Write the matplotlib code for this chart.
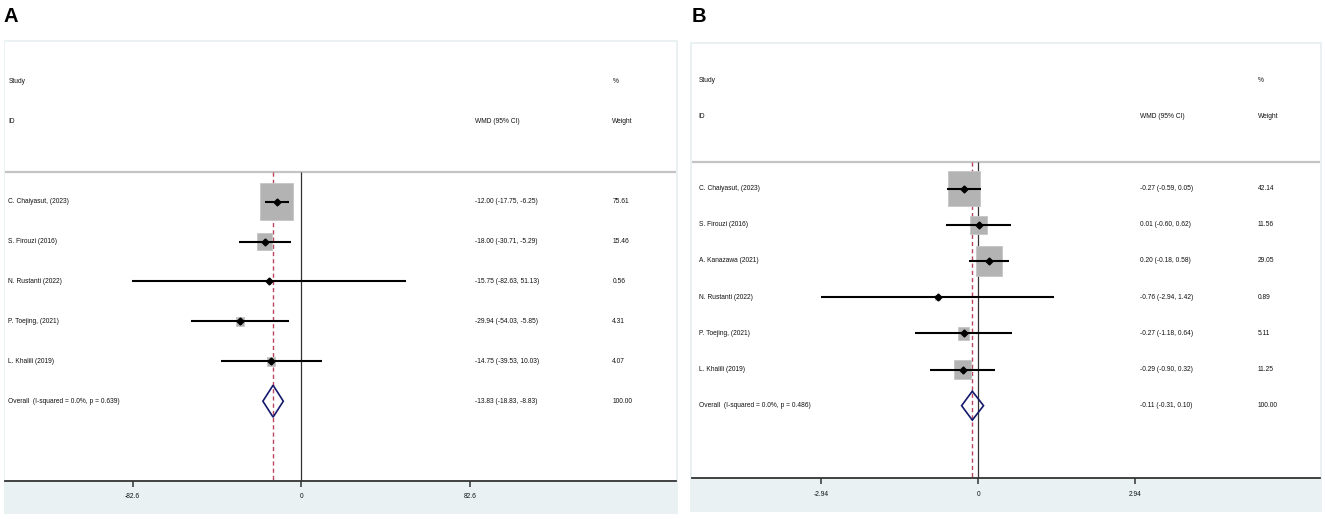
import numpy as np
import matplotlib
matplotlib.use("Agg")
import matplotlib.pyplot as plt
from matplotlib.patches import Rectangle, Polygon
from matplotlib.transforms import blended_transform_factory

plt.rcParams['font.family'] = ['Liberation Sans Narrow', 'Liberation Sans', 'DejaVu Sans']

# ---- panel A data ----
studies_a = ["C. Chaiyasut, (2023)", "S. Firouzi (2016)", "N. Rustanti (2022)",
             "P. Toejing, (2021)", "L. Khalili (2019)"]
wmd_a = [-12.00, -18.00, -15.75, -29.94, -14.75]
lo_a = [-17.75, -30.71, -82.63, -54.03, -39.53]
hi_a = [-6.25, -5.29, 51.13, -5.85, 10.03]
weight_a = [75.61, 15.46, 0.56, 4.31, 4.07]
overall_a = [-13.83, -18.83, -8.83]
overall_weight_a = 100.00
overall_label_a = "Overall  (I-squared = 0.0%, p = 0.639)"
ticks_a = [-82.6, 0, 82.6]

# ---- panel B data ----
studies_b = ["C. Chaiyasut, (2023)", "S. Firouzi (2016)", "A. Kanazawa (2021)",
             "N. Rustanti (2022)", "P. Toejing, (2021)", "L. Khalili (2019)"]
wmd_b = [-0.27, 0.01, 0.20, -0.76, -0.27, -0.29]
lo_b = [-0.59, -0.60, -0.18, -2.94, -1.18, -0.90]
hi_b = [0.05, 0.62, 0.58, 1.42, 0.64, 0.32]
weight_b = [42.14, 11.56, 29.05, 0.89, 5.11, 11.25]
overall_b = [-0.11, -0.31, 0.10]
overall_weight_b = 100.00
overall_label_b = "Overall  (I-squared = 0.0%, p = 0.486)"
ticks_b = [-2.94, 0, 2.94]

W, H = 1325, 519
FS = 4.8
TXT = '#111111'
REGION = '#e9f1f3'


def px_rect(l, t, r, b):
    """pixel box (top-left origin) -> figure fraction rect"""
    return [l / W, 1 - b / H, (r - l) / W, (b - t) / H]


def draw_forest(fig, region, plot, xlim, studies, est, lo, hi, wts, overall,
                overall_wt, overall_label, ticks, box_px, cols):
    bg = fig.add_axes(px_rect(*region))
    bg.set_facecolor(REGION)
    bg.set_xticks([])
    bg.set_yticks([])
    for s in bg.spines.values():
        s.set_visible(False)

    ax = fig.add_axes(px_rect(*plot))
    ax.set_facecolor('white')
    n = len(studies)
    ybot = n + 3
    ax.set_xlim(*xlim)
    ax.set_ylim(ybot, -3)
    for k in ['top', 'left', 'right']:
        ax.spines[k].set_visible(False)
    ax.spines['bottom'].set_color('#333333')
    ax.spines['bottom'].set_linewidth(1.3)
    ax.set_yticks([])
    ax.set_xticks(ticks)
    ax.set_xticklabels([f"{t:g}" for t in ticks])
    ax.tick_params(axis='x', direction='out', length=4.5, width=1.1,
                   color='#333333', labelsize=FS, labelcolor=TXT, pad=4.5)

    # pixel -> data conversion for box sizes
    w_px = plot[2] - plot[0]
    h_px = plot[3] - plot[1]
    dx = (xlim[1] - xlim[0]) / w_px
    dy = (ybot + 3) / h_px

    rows = np.arange(1, n + 1)
    ax.axhline(0.25, color='#c4c4c4', lw=1.6, zorder=1)
    ax.vlines(0, 0.25, ybot, color='#333333', lw=0.9, zorder=1)
    ax.vlines(overall[0], 0.25, ybot, color='#b8465c', lw=1.0,
              linestyles=(0, (3, 2.2)), zorder=1)

    wmax = max(wts)
    for r, m, w in zip(rows, est, wts):
        side = box_px * np.sqrt(w / wmax)
        bw = side * dx
        bh = side * 1.11 * dy
        ax.add_patch(Rectangle((m - bw / 2, r - bh / 2), bw, bh,
                               facecolor='#b3b3b3', edgecolor='#c6c6c6',
                               lw=0.6, zorder=2))
    ax.hlines(rows, lo, hi, color='black', lw=1.5, zorder=3)
    ax.plot(est, rows, 'D', color='black', ms=3.5, zorder=4)

    ro = n + 1
    ax.add_patch(Polygon([(overall[1], ro), (overall[0], ro - 0.4),
                          (overall[2], ro), (overall[0], ro + 0.4)],
                         closed=True, fill=False, edgecolor='#141a6b',
                         lw=1.2, zorder=4))

    tr = blended_transform_factory(ax.transAxes, ax.transData)
    c_id, c_es, c_wt = cols
    kw = dict(transform=tr, fontsize=FS, color=TXT, va='center', ha='left')
    ax.text(c_id, -2, "Study", **kw)
    ax.text(c_wt, -2, "%", **kw)
    ax.text(c_id, -1, "ID", **kw)
    ax.text(c_es, -1, "WMD (95% CI)", **kw)
    ax.text(c_wt, -1, "Weight", **kw)
    for r, name, m, l, h, w in zip(rows, studies, est, lo, hi, wts):
        ax.text(c_id, r, name, **kw)
        ax.text(c_es, r, f"{m:.2f} ({l:.2f}, {h:.2f})", **kw)
        ax.text(c_wt, r, f"{w:.2f}", **kw)
    ax.text(c_id, ro, overall_label, **kw)
    ax.text(c_es, ro, f"{overall[0]:.2f} ({overall[1]:.2f}, {overall[2]:.2f})", **kw)
    ax.text(c_wt, ro, f"{overall_wt:.2f}", **kw)
    return ax


fig = plt.figure(figsize=(W / 100, H / 100), dpi=100)

draw_forest(fig, (4, 40, 678, 514), (5, 42, 676, 481), (-145.0, 183.3),
            studies_a, wmd_a, lo_a, hi_a, weight_a, overall_a, overall_weight_a,
            overall_label_a, ticks_a, 33, (0.005, 0.701, 0.905))
draw_forest(fig, (690, 42, 1322, 512), (692, 44, 1320, 478), (-5.35, 6.39),
            studies_b, wmd_b, lo_b, hi_b, weight_b, overall_b, overall_weight_b,
            overall_label_b, ticks_b, 32, (0.0107, 0.714, 0.901))

fig.text(4 / W, 1 - 22.5 / H, "A", fontsize=14.5, fontweight='bold',
         family=['Liberation Sans', 'DejaVu Sans'], va='baseline', ha='left')
fig.text(691.5 / W, 1 - 21.7 / H, "B", fontsize=14.5, fontweight='bold',
         family=['Liberation Sans', 'DejaVu Sans'], va='baseline', ha='left')

fig.savefig("out.png", dpi=100)
